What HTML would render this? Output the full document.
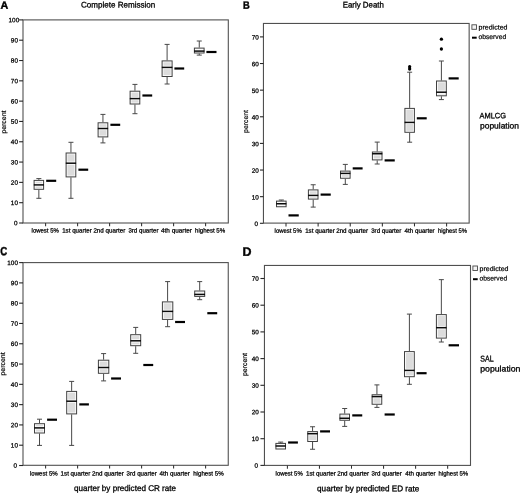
<!DOCTYPE html>
<html><head><meta charset="utf-8"><title>Figure</title>
<style>
html,body{margin:0;padding:0;background:#fff;}
body{width:520px;height:494px;overflow:hidden;}
svg text{font-family:"Liberation Sans", "DejaVu Sans", sans-serif;text-rendering:geometricPrecision;}
</style></head><body>
<svg width="520" height="494" viewBox="0 0 520 494" style="display:block">
<rect width="520" height="494" fill="#fff"/>
<rect x="23.0" y="19.9" width="205.30" height="203.10" fill="none" stroke="#505050" stroke-width="1.1"/>
<line x1="19.10" x2="23.00" y1="223.00" y2="223.00" stroke="#262626" stroke-width="1.1"/>
<text x="17.45" y="225.35" transform="rotate(0.05 17.45 225.35)" font-size="6.3" text-anchor="end" textLength="3.55" lengthAdjust="spacingAndGlyphs" fill="#000" stroke="#000" stroke-width="0.25">0</text>
<line x1="19.10" x2="23.00" y1="202.69" y2="202.69" stroke="#262626" stroke-width="1.1"/>
<text x="17.95" y="205.04" transform="rotate(0.05 17.95 205.04)" font-size="6.3" text-anchor="end" textLength="7.10" lengthAdjust="spacingAndGlyphs" fill="#000" stroke="#000" stroke-width="0.25">10</text>
<line x1="19.10" x2="23.00" y1="182.38" y2="182.38" stroke="#262626" stroke-width="1.1"/>
<text x="17.95" y="184.73" transform="rotate(0.05 17.95 184.73)" font-size="6.3" text-anchor="end" textLength="7.10" lengthAdjust="spacingAndGlyphs" fill="#000" stroke="#000" stroke-width="0.25">20</text>
<line x1="19.10" x2="23.00" y1="162.07" y2="162.07" stroke="#262626" stroke-width="1.1"/>
<text x="17.95" y="164.42" transform="rotate(0.05 17.95 164.42)" font-size="6.3" text-anchor="end" textLength="7.10" lengthAdjust="spacingAndGlyphs" fill="#000" stroke="#000" stroke-width="0.25">30</text>
<line x1="19.10" x2="23.00" y1="141.76" y2="141.76" stroke="#262626" stroke-width="1.1"/>
<text x="17.95" y="144.11" transform="rotate(0.05 17.95 144.11)" font-size="6.3" text-anchor="end" textLength="7.10" lengthAdjust="spacingAndGlyphs" fill="#000" stroke="#000" stroke-width="0.25">40</text>
<line x1="19.10" x2="23.00" y1="121.45" y2="121.45" stroke="#262626" stroke-width="1.1"/>
<text x="17.95" y="123.80" transform="rotate(0.05 17.95 123.80)" font-size="6.3" text-anchor="end" textLength="7.10" lengthAdjust="spacingAndGlyphs" fill="#000" stroke="#000" stroke-width="0.25">50</text>
<line x1="19.10" x2="23.00" y1="101.14" y2="101.14" stroke="#262626" stroke-width="1.1"/>
<text x="17.95" y="103.49" transform="rotate(0.05 17.95 103.49)" font-size="6.3" text-anchor="end" textLength="7.10" lengthAdjust="spacingAndGlyphs" fill="#000" stroke="#000" stroke-width="0.25">60</text>
<line x1="19.10" x2="23.00" y1="80.83" y2="80.83" stroke="#262626" stroke-width="1.1"/>
<text x="17.95" y="83.18" transform="rotate(0.05 17.95 83.18)" font-size="6.3" text-anchor="end" textLength="7.10" lengthAdjust="spacingAndGlyphs" fill="#000" stroke="#000" stroke-width="0.25">70</text>
<line x1="19.10" x2="23.00" y1="60.52" y2="60.52" stroke="#262626" stroke-width="1.1"/>
<text x="17.95" y="62.87" transform="rotate(0.05 17.95 62.87)" font-size="6.3" text-anchor="end" textLength="7.10" lengthAdjust="spacingAndGlyphs" fill="#000" stroke="#000" stroke-width="0.25">80</text>
<line x1="19.10" x2="23.00" y1="40.21" y2="40.21" stroke="#262626" stroke-width="1.1"/>
<text x="17.95" y="42.56" transform="rotate(0.05 17.95 42.56)" font-size="6.3" text-anchor="end" textLength="7.10" lengthAdjust="spacingAndGlyphs" fill="#000" stroke="#000" stroke-width="0.25">90</text>
<line x1="19.10" x2="23.00" y1="19.90" y2="19.90" stroke="#262626" stroke-width="1.1"/>
<text x="19.2" y="22.25" transform="rotate(0.05 19.2 22.25)" font-size="6.3" text-anchor="end" textLength="10.65" lengthAdjust="spacingAndGlyphs" fill="#000" stroke="#000" stroke-width="0.25">100</text>
<line x1="45.60" x2="45.60" y1="223.00" y2="226.30" stroke="#303030" stroke-width="1.05"/>
<text x="31.60" y="232.60" transform="rotate(0.05 31.60 232.60)" font-size="6.2" text-anchor="start" textLength="27.20" lengthAdjust="spacingAndGlyphs" fill="#000" stroke="#000" stroke-width="0.25">lowest 5%</text>
<line x1="38.85" x2="38.85" y1="178.60" y2="179.90" stroke="#484848" stroke-width="1"/>
<line x1="38.85" x2="38.85" y1="189.80" y2="198.30" stroke="#484848" stroke-width="1"/>
<line x1="36.35" x2="41.35" y1="178.60" y2="178.60" stroke="#484848" stroke-width="1"/>
<line x1="36.35" x2="41.35" y1="198.30" y2="198.30" stroke="#484848" stroke-width="1"/>
<rect x="34.10" y="180.40" width="9.50" height="8.90" fill="#fbfbfb" stroke="#404040" stroke-width="1"/>
<rect x="35.50" y="181.80" width="6.70" height="1.45" fill="#dcdcdc"/>
<rect x="35.50" y="186.55" width="6.70" height="1.35" fill="#dcdcdc"/>
<line x1="33.80" x2="43.90" y1="184.90" y2="184.90" stroke="#0a0a0a" stroke-width="1.5"/>
<line x1="46.20" x2="56.20" y1="180.80" y2="180.80" stroke="#000" stroke-width="2.2"/>
<line x1="77.60" x2="77.60" y1="223.00" y2="226.30" stroke="#303030" stroke-width="1.05"/>
<text x="62.20" y="232.60" transform="rotate(0.05 62.20 232.60)" font-size="6.2" text-anchor="start" textLength="29.50" lengthAdjust="spacingAndGlyphs" fill="#000" stroke="#000" stroke-width="0.25">1st quarter</text>
<line x1="70.95" x2="70.95" y1="142.30" y2="152.50" stroke="#484848" stroke-width="1"/>
<line x1="70.95" x2="70.95" y1="177.40" y2="198.30" stroke="#484848" stroke-width="1"/>
<line x1="68.45" x2="73.45" y1="142.30" y2="142.30" stroke="#484848" stroke-width="1"/>
<line x1="68.45" x2="73.45" y1="198.30" y2="198.30" stroke="#484848" stroke-width="1"/>
<rect x="66.10" y="153.00" width="9.70" height="23.90" fill="#fbfbfb" stroke="#404040" stroke-width="1"/>
<rect x="67.50" y="154.40" width="6.90" height="7.15" fill="#dcdcdc"/>
<rect x="67.50" y="164.85" width="6.90" height="10.65" fill="#dcdcdc"/>
<line x1="65.80" x2="76.10" y1="163.20" y2="163.20" stroke="#0a0a0a" stroke-width="1.5"/>
<line x1="78.40" x2="88.20" y1="169.70" y2="169.70" stroke="#000" stroke-width="2.2"/>
<line x1="109.60" x2="109.60" y1="223.00" y2="226.30" stroke="#303030" stroke-width="1.05"/>
<text x="93.40" y="232.60" transform="rotate(0.05 93.40 232.60)" font-size="6.2" text-anchor="start" textLength="31.90" lengthAdjust="spacingAndGlyphs" fill="#000" stroke="#000" stroke-width="0.25">2nd quarter</text>
<line x1="102.95" x2="102.95" y1="114.40" y2="122.30" stroke="#484848" stroke-width="1"/>
<line x1="102.95" x2="102.95" y1="137.40" y2="142.90" stroke="#484848" stroke-width="1"/>
<line x1="100.45" x2="105.45" y1="114.40" y2="114.40" stroke="#484848" stroke-width="1"/>
<line x1="100.45" x2="105.45" y1="142.90" y2="142.90" stroke="#484848" stroke-width="1"/>
<rect x="98.10" y="122.80" width="9.70" height="14.10" fill="#fbfbfb" stroke="#404040" stroke-width="1"/>
<rect x="99.50" y="124.20" width="6.90" height="2.65" fill="#dcdcdc"/>
<rect x="99.50" y="130.15" width="6.90" height="5.35" fill="#dcdcdc"/>
<line x1="97.80" x2="108.10" y1="128.50" y2="128.50" stroke="#0a0a0a" stroke-width="1.5"/>
<line x1="110.40" x2="120.20" y1="124.80" y2="124.80" stroke="#000" stroke-width="2.2"/>
<line x1="141.60" x2="141.60" y1="223.00" y2="226.30" stroke="#303030" stroke-width="1.05"/>
<text x="128.40" y="232.60" transform="rotate(0.05 128.40 232.60)" font-size="6.2" text-anchor="start" textLength="30.10" lengthAdjust="spacingAndGlyphs" fill="#000" stroke="#000" stroke-width="0.25">3rd quarter</text>
<line x1="134.95" x2="134.95" y1="84.40" y2="90.70" stroke="#484848" stroke-width="1"/>
<line x1="134.95" x2="134.95" y1="104.50" y2="113.70" stroke="#484848" stroke-width="1"/>
<line x1="132.45" x2="137.45" y1="84.40" y2="84.40" stroke="#484848" stroke-width="1"/>
<line x1="132.45" x2="137.45" y1="113.70" y2="113.70" stroke="#484848" stroke-width="1"/>
<rect x="130.10" y="91.20" width="9.70" height="12.80" fill="#fbfbfb" stroke="#404040" stroke-width="1"/>
<rect x="131.50" y="92.60" width="6.90" height="4.35" fill="#dcdcdc"/>
<rect x="131.50" y="100.25" width="6.90" height="2.35" fill="#dcdcdc"/>
<line x1="129.80" x2="140.10" y1="98.60" y2="98.60" stroke="#0a0a0a" stroke-width="1.5"/>
<line x1="142.40" x2="152.20" y1="95.50" y2="95.50" stroke="#000" stroke-width="2.2"/>
<line x1="173.60" x2="173.60" y1="223.00" y2="226.30" stroke="#303030" stroke-width="1.05"/>
<text x="161.00" y="232.60" transform="rotate(0.05 161.00 232.60)" font-size="6.2" text-anchor="start" textLength="30.90" lengthAdjust="spacingAndGlyphs" fill="#000" stroke="#000" stroke-width="0.25">4th quarter</text>
<line x1="167.10" x2="167.10" y1="44.40" y2="60.40" stroke="#484848" stroke-width="1"/>
<line x1="167.10" x2="167.10" y1="77.00" y2="84.00" stroke="#484848" stroke-width="1"/>
<line x1="164.60" x2="169.60" y1="44.40" y2="44.40" stroke="#484848" stroke-width="1"/>
<line x1="164.60" x2="169.60" y1="84.00" y2="84.00" stroke="#484848" stroke-width="1"/>
<rect x="162.10" y="60.90" width="10.00" height="15.60" fill="#fbfbfb" stroke="#404040" stroke-width="1"/>
<rect x="163.50" y="62.30" width="7.20" height="3.45" fill="#dcdcdc"/>
<rect x="163.50" y="69.05" width="7.20" height="6.05" fill="#dcdcdc"/>
<line x1="161.80" x2="172.40" y1="67.40" y2="67.40" stroke="#0a0a0a" stroke-width="1.5"/>
<line x1="174.40" x2="184.20" y1="68.50" y2="68.50" stroke="#000" stroke-width="2.2"/>
<line x1="205.60" x2="205.60" y1="223.00" y2="226.30" stroke="#303030" stroke-width="1.05"/>
<text x="195.00" y="232.60" transform="rotate(0.05 195.00 232.60)" font-size="6.2" text-anchor="start" textLength="30.20" lengthAdjust="spacingAndGlyphs" fill="#000" stroke="#000" stroke-width="0.25">highest 5%</text>
<line x1="199.25" x2="199.25" y1="41.00" y2="47.60" stroke="#484848" stroke-width="1"/>
<line x1="199.25" x2="199.25" y1="53.50" y2="55.10" stroke="#484848" stroke-width="1"/>
<line x1="196.75" x2="201.75" y1="41.00" y2="41.00" stroke="#484848" stroke-width="1"/>
<line x1="196.75" x2="201.75" y1="55.10" y2="55.10" stroke="#484848" stroke-width="1"/>
<rect x="194.40" y="48.10" width="9.70" height="4.90" fill="#fbfbfb" stroke="#404040" stroke-width="1"/>
<line x1="194.10" x2="204.40" y1="51.10" y2="51.10" stroke="#0a0a0a" stroke-width="1.5"/>
<line x1="206.40" x2="216.50" y1="52.00" y2="52.00" stroke="#000" stroke-width="2.2"/>
<text transform="translate(6.30,133.60) rotate(-90)" font-size="6.8" textLength="23.00" lengthAdjust="spacingAndGlyphs" fill="#000" stroke="#000" stroke-width="0.18">percent</text>
<rect x="23.0" y="262.6" width="205.25" height="202.70" fill="none" stroke="#505050" stroke-width="1.1"/>
<line x1="19.10" x2="23.00" y1="465.50" y2="465.50" stroke="#262626" stroke-width="1.1"/>
<text x="16.95" y="467.85" transform="rotate(0.05 16.95 467.85)" font-size="6.3" text-anchor="end" textLength="3.55" lengthAdjust="spacingAndGlyphs" fill="#000" stroke="#000" stroke-width="0.25">0</text>
<line x1="19.10" x2="23.00" y1="445.21" y2="445.21" stroke="#262626" stroke-width="1.1"/>
<text x="17.95" y="447.56" transform="rotate(0.05 17.95 447.56)" font-size="6.3" text-anchor="end" textLength="7.10" lengthAdjust="spacingAndGlyphs" fill="#000" stroke="#000" stroke-width="0.25">10</text>
<line x1="19.10" x2="23.00" y1="424.92" y2="424.92" stroke="#262626" stroke-width="1.1"/>
<text x="17.95" y="427.27" transform="rotate(0.05 17.95 427.27)" font-size="6.3" text-anchor="end" textLength="7.10" lengthAdjust="spacingAndGlyphs" fill="#000" stroke="#000" stroke-width="0.25">20</text>
<line x1="19.10" x2="23.00" y1="404.63" y2="404.63" stroke="#262626" stroke-width="1.1"/>
<text x="17.95" y="406.98" transform="rotate(0.05 17.95 406.98)" font-size="6.3" text-anchor="end" textLength="7.10" lengthAdjust="spacingAndGlyphs" fill="#000" stroke="#000" stroke-width="0.25">30</text>
<line x1="19.10" x2="23.00" y1="384.34" y2="384.34" stroke="#262626" stroke-width="1.1"/>
<text x="17.95" y="386.69" transform="rotate(0.05 17.95 386.69)" font-size="6.3" text-anchor="end" textLength="7.10" lengthAdjust="spacingAndGlyphs" fill="#000" stroke="#000" stroke-width="0.25">40</text>
<line x1="19.10" x2="23.00" y1="364.05" y2="364.05" stroke="#262626" stroke-width="1.1"/>
<text x="17.95" y="366.40" transform="rotate(0.05 17.95 366.40)" font-size="6.3" text-anchor="end" textLength="7.10" lengthAdjust="spacingAndGlyphs" fill="#000" stroke="#000" stroke-width="0.25">50</text>
<line x1="19.10" x2="23.00" y1="343.76" y2="343.76" stroke="#262626" stroke-width="1.1"/>
<text x="17.95" y="346.11" transform="rotate(0.05 17.95 346.11)" font-size="6.3" text-anchor="end" textLength="7.10" lengthAdjust="spacingAndGlyphs" fill="#000" stroke="#000" stroke-width="0.25">60</text>
<line x1="19.10" x2="23.00" y1="323.47" y2="323.47" stroke="#262626" stroke-width="1.1"/>
<text x="17.95" y="325.82" transform="rotate(0.05 17.95 325.82)" font-size="6.3" text-anchor="end" textLength="7.10" lengthAdjust="spacingAndGlyphs" fill="#000" stroke="#000" stroke-width="0.25">70</text>
<line x1="19.10" x2="23.00" y1="303.18" y2="303.18" stroke="#262626" stroke-width="1.1"/>
<text x="17.95" y="305.53" transform="rotate(0.05 17.95 305.53)" font-size="6.3" text-anchor="end" textLength="7.10" lengthAdjust="spacingAndGlyphs" fill="#000" stroke="#000" stroke-width="0.25">80</text>
<line x1="19.10" x2="23.00" y1="282.89" y2="282.89" stroke="#262626" stroke-width="1.1"/>
<text x="17.95" y="285.24" transform="rotate(0.05 17.95 285.24)" font-size="6.3" text-anchor="end" textLength="7.10" lengthAdjust="spacingAndGlyphs" fill="#000" stroke="#000" stroke-width="0.25">90</text>
<line x1="19.10" x2="23.00" y1="262.60" y2="262.60" stroke="#262626" stroke-width="1.1"/>
<text x="17.95" y="264.95" transform="rotate(0.05 17.95 264.95)" font-size="6.3" text-anchor="end" textLength="10.65" lengthAdjust="spacingAndGlyphs" fill="#000" stroke="#000" stroke-width="0.25">100</text>
<line x1="45.60" x2="45.60" y1="465.30" y2="468.60" stroke="#303030" stroke-width="1.05"/>
<text x="30.00" y="475.40" transform="rotate(0.05 30.00 475.40)" font-size="6.2" text-anchor="start" textLength="27.70" lengthAdjust="spacingAndGlyphs" fill="#000" stroke="#000" stroke-width="0.25">lowest 5%</text>
<line x1="39.50" x2="39.50" y1="419.20" y2="423.20" stroke="#484848" stroke-width="1"/>
<line x1="39.50" x2="39.50" y1="433.50" y2="445.40" stroke="#484848" stroke-width="1"/>
<line x1="37.00" x2="42.00" y1="419.20" y2="419.20" stroke="#484848" stroke-width="1"/>
<line x1="37.00" x2="42.00" y1="445.40" y2="445.40" stroke="#484848" stroke-width="1"/>
<rect x="34.50" y="423.70" width="10.00" height="9.30" fill="#fbfbfb" stroke="#404040" stroke-width="1"/>
<rect x="35.90" y="425.10" width="7.20" height="1.15" fill="#dcdcdc"/>
<rect x="35.90" y="429.55" width="7.20" height="2.05" fill="#dcdcdc"/>
<line x1="34.20" x2="44.80" y1="427.90" y2="427.90" stroke="#0a0a0a" stroke-width="1.5"/>
<line x1="47.10" x2="57.00" y1="419.70" y2="419.70" stroke="#000" stroke-width="2.2"/>
<line x1="77.60" x2="77.60" y1="465.30" y2="468.60" stroke="#303030" stroke-width="1.05"/>
<text x="60.60" y="475.40" transform="rotate(0.05 60.60 475.40)" font-size="6.2" text-anchor="start" textLength="29.70" lengthAdjust="spacingAndGlyphs" fill="#000" stroke="#000" stroke-width="0.25">1st quarter</text>
<line x1="71.65" x2="71.65" y1="381.40" y2="390.90" stroke="#484848" stroke-width="1"/>
<line x1="71.65" x2="71.65" y1="414.40" y2="445.40" stroke="#484848" stroke-width="1"/>
<line x1="69.15" x2="74.15" y1="381.40" y2="381.40" stroke="#484848" stroke-width="1"/>
<line x1="69.15" x2="74.15" y1="445.40" y2="445.40" stroke="#484848" stroke-width="1"/>
<rect x="66.70" y="391.40" width="9.90" height="22.50" fill="#fbfbfb" stroke="#404040" stroke-width="1"/>
<rect x="68.10" y="392.80" width="7.10" height="6.75" fill="#dcdcdc"/>
<rect x="68.10" y="402.85" width="7.10" height="9.65" fill="#dcdcdc"/>
<line x1="66.40" x2="76.90" y1="401.20" y2="401.20" stroke="#0a0a0a" stroke-width="1.5"/>
<line x1="79.30" x2="88.90" y1="404.40" y2="404.40" stroke="#000" stroke-width="2.2"/>
<line x1="109.60" x2="109.60" y1="465.30" y2="468.60" stroke="#303030" stroke-width="1.05"/>
<text x="92.00" y="475.40" transform="rotate(0.05 92.00 475.40)" font-size="6.2" text-anchor="start" textLength="31.90" lengthAdjust="spacingAndGlyphs" fill="#000" stroke="#000" stroke-width="0.25">2nd quarter</text>
<line x1="103.60" x2="103.60" y1="353.60" y2="359.70" stroke="#484848" stroke-width="1"/>
<line x1="103.60" x2="103.60" y1="373.80" y2="380.90" stroke="#484848" stroke-width="1"/>
<line x1="101.10" x2="106.10" y1="353.60" y2="353.60" stroke="#484848" stroke-width="1"/>
<line x1="101.10" x2="106.10" y1="380.90" y2="380.90" stroke="#484848" stroke-width="1"/>
<rect x="98.40" y="360.20" width="10.40" height="13.10" fill="#fbfbfb" stroke="#404040" stroke-width="1"/>
<rect x="99.80" y="361.60" width="7.60" height="4.25" fill="#dcdcdc"/>
<rect x="99.80" y="369.15" width="7.60" height="2.75" fill="#dcdcdc"/>
<line x1="98.10" x2="109.10" y1="367.50" y2="367.50" stroke="#0a0a0a" stroke-width="1.5"/>
<line x1="111.10" x2="121.00" y1="378.50" y2="378.50" stroke="#000" stroke-width="2.2"/>
<line x1="141.60" x2="141.60" y1="465.30" y2="468.60" stroke="#303030" stroke-width="1.05"/>
<text x="126.60" y="475.40" transform="rotate(0.05 126.60 475.40)" font-size="6.2" text-anchor="start" textLength="30.10" lengthAdjust="spacingAndGlyphs" fill="#000" stroke="#000" stroke-width="0.25">3rd quarter</text>
<line x1="135.70" x2="135.70" y1="327.40" y2="334.20" stroke="#484848" stroke-width="1"/>
<line x1="135.70" x2="135.70" y1="346.20" y2="353.30" stroke="#484848" stroke-width="1"/>
<line x1="133.20" x2="138.20" y1="327.40" y2="327.40" stroke="#484848" stroke-width="1"/>
<line x1="133.20" x2="138.20" y1="353.30" y2="353.30" stroke="#484848" stroke-width="1"/>
<rect x="130.70" y="334.70" width="10.00" height="11.00" fill="#fbfbfb" stroke="#404040" stroke-width="1"/>
<rect x="132.10" y="336.10" width="7.20" height="3.05" fill="#dcdcdc"/>
<rect x="132.10" y="342.45" width="7.20" height="1.85" fill="#dcdcdc"/>
<line x1="130.40" x2="141.00" y1="340.80" y2="340.80" stroke="#0a0a0a" stroke-width="1.5"/>
<line x1="143.30" x2="153.20" y1="365.00" y2="365.00" stroke="#000" stroke-width="2.2"/>
<line x1="173.60" x2="173.60" y1="465.30" y2="468.60" stroke="#303030" stroke-width="1.05"/>
<text x="159.60" y="475.40" transform="rotate(0.05 159.60 475.40)" font-size="6.2" text-anchor="start" textLength="30.30" lengthAdjust="spacingAndGlyphs" fill="#000" stroke="#000" stroke-width="0.25">4th quarter</text>
<line x1="167.60" x2="167.60" y1="281.60" y2="301.40" stroke="#484848" stroke-width="1"/>
<line x1="167.60" x2="167.60" y1="319.90" y2="326.70" stroke="#484848" stroke-width="1"/>
<line x1="165.10" x2="170.10" y1="281.60" y2="281.60" stroke="#484848" stroke-width="1"/>
<line x1="165.10" x2="170.10" y1="326.70" y2="326.70" stroke="#484848" stroke-width="1"/>
<rect x="162.40" y="301.90" width="10.40" height="17.50" fill="#fbfbfb" stroke="#404040" stroke-width="1"/>
<rect x="163.80" y="303.30" width="7.60" height="6.45" fill="#dcdcdc"/>
<rect x="163.80" y="313.05" width="7.60" height="4.95" fill="#dcdcdc"/>
<line x1="162.10" x2="173.10" y1="311.40" y2="311.40" stroke="#0a0a0a" stroke-width="1.5"/>
<line x1="175.10" x2="185.00" y1="322.00" y2="322.00" stroke="#000" stroke-width="2.2"/>
<line x1="205.60" x2="205.60" y1="465.30" y2="468.60" stroke="#303030" stroke-width="1.05"/>
<text x="193.20" y="475.40" transform="rotate(0.05 193.20 475.40)" font-size="6.2" text-anchor="start" textLength="30.50" lengthAdjust="spacingAndGlyphs" fill="#000" stroke="#000" stroke-width="0.25">highest 5%</text>
<line x1="199.70" x2="199.70" y1="281.60" y2="290.50" stroke="#484848" stroke-width="1"/>
<line x1="199.70" x2="199.70" y1="296.90" y2="299.70" stroke="#484848" stroke-width="1"/>
<line x1="197.20" x2="202.20" y1="281.60" y2="281.60" stroke="#484848" stroke-width="1"/>
<line x1="197.20" x2="202.20" y1="299.70" y2="299.70" stroke="#484848" stroke-width="1"/>
<rect x="194.70" y="291.00" width="10.00" height="5.40" fill="#fbfbfb" stroke="#404040" stroke-width="1"/>
<rect x="196.10" y="292.40" width="7.20" height="0.35" fill="#dcdcdc"/>
<line x1="194.40" x2="205.00" y1="294.40" y2="294.40" stroke="#0a0a0a" stroke-width="1.5"/>
<line x1="207.30" x2="217.20" y1="313.20" y2="313.20" stroke="#000" stroke-width="2.2"/>
<text transform="translate(5.30,375.50) rotate(-90)" font-size="6.8" textLength="23.10" lengthAdjust="spacingAndGlyphs" fill="#000" stroke="#000" stroke-width="0.18">percent</text>
<rect x="263.45" y="23.45" width="205.70" height="199.65" fill="none" stroke="#505050" stroke-width="1.1"/>
<line x1="259.95" x2="263.45" y1="223.30" y2="223.30" stroke="#262626" stroke-width="1.1"/>
<text x="257.95" y="226.05" transform="rotate(0.05 257.95 226.05)" font-size="6.3" text-anchor="end" textLength="3.55" lengthAdjust="spacingAndGlyphs" fill="#000" stroke="#000" stroke-width="0.25">0</text>
<line x1="259.95" x2="263.45" y1="196.67" y2="196.67" stroke="#262626" stroke-width="1.1"/>
<text x="258.9" y="199.42" transform="rotate(0.05 258.9 199.42)" font-size="6.3" text-anchor="end" textLength="7.10" lengthAdjust="spacingAndGlyphs" fill="#000" stroke="#000" stroke-width="0.25">10</text>
<line x1="259.95" x2="263.45" y1="170.04" y2="170.04" stroke="#262626" stroke-width="1.1"/>
<text x="258.9" y="172.79" transform="rotate(0.05 258.9 172.79)" font-size="6.3" text-anchor="end" textLength="7.10" lengthAdjust="spacingAndGlyphs" fill="#000" stroke="#000" stroke-width="0.25">20</text>
<line x1="259.95" x2="263.45" y1="143.41" y2="143.41" stroke="#262626" stroke-width="1.1"/>
<text x="258.9" y="146.16" transform="rotate(0.05 258.9 146.16)" font-size="6.3" text-anchor="end" textLength="7.10" lengthAdjust="spacingAndGlyphs" fill="#000" stroke="#000" stroke-width="0.25">30</text>
<line x1="259.95" x2="263.45" y1="116.78" y2="116.78" stroke="#262626" stroke-width="1.1"/>
<text x="258.9" y="119.53" transform="rotate(0.05 258.9 119.53)" font-size="6.3" text-anchor="end" textLength="7.10" lengthAdjust="spacingAndGlyphs" fill="#000" stroke="#000" stroke-width="0.25">40</text>
<line x1="259.95" x2="263.45" y1="90.15" y2="90.15" stroke="#262626" stroke-width="1.1"/>
<text x="258.9" y="92.90" transform="rotate(0.05 258.9 92.90)" font-size="6.3" text-anchor="end" textLength="7.10" lengthAdjust="spacingAndGlyphs" fill="#000" stroke="#000" stroke-width="0.25">50</text>
<line x1="259.95" x2="263.45" y1="63.52" y2="63.52" stroke="#262626" stroke-width="1.1"/>
<text x="258.9" y="66.27" transform="rotate(0.05 258.9 66.27)" font-size="6.3" text-anchor="end" textLength="7.10" lengthAdjust="spacingAndGlyphs" fill="#000" stroke="#000" stroke-width="0.25">60</text>
<line x1="259.95" x2="263.45" y1="36.89" y2="36.89" stroke="#262626" stroke-width="1.1"/>
<text x="258.9" y="39.64" transform="rotate(0.05 258.9 39.64)" font-size="6.3" text-anchor="end" textLength="7.10" lengthAdjust="spacingAndGlyphs" fill="#000" stroke="#000" stroke-width="0.25">70</text>
<line x1="286.00" x2="286.00" y1="223.10" y2="226.40" stroke="#303030" stroke-width="1.05"/>
<text x="274.60" y="232.70" transform="rotate(0.05 274.60 232.70)" font-size="6.2" text-anchor="start" textLength="27.10" lengthAdjust="spacingAndGlyphs" fill="#000" stroke="#000" stroke-width="0.25">lowest 5%</text>
<line x1="281.30" x2="281.30" y1="200.00" y2="200.60" stroke="#484848" stroke-width="1"/>
<line x1="278.80" x2="283.80" y1="200.00" y2="200.00" stroke="#484848" stroke-width="1"/>
<rect x="276.50" y="201.10" width="9.60" height="5.65" fill="#fbfbfb" stroke="#404040" stroke-width="1"/>
<line x1="276.20" x2="286.40" y1="203.75" y2="203.75" stroke="#0a0a0a" stroke-width="1.5"/>
<line x1="288.50" x2="298.75" y1="215.40" y2="215.40" stroke="#000" stroke-width="2.2"/>
<line x1="318.12" x2="318.12" y1="223.10" y2="226.40" stroke="#303030" stroke-width="1.05"/>
<text x="305.20" y="232.70" transform="rotate(0.05 305.20 232.70)" font-size="6.2" text-anchor="start" textLength="29.50" lengthAdjust="spacingAndGlyphs" fill="#000" stroke="#000" stroke-width="0.25">1st quarter</text>
<line x1="313.20" x2="313.20" y1="184.75" y2="189.40" stroke="#484848" stroke-width="1"/>
<line x1="313.20" x2="313.20" y1="199.60" y2="207.10" stroke="#484848" stroke-width="1"/>
<line x1="310.70" x2="315.70" y1="184.75" y2="184.75" stroke="#484848" stroke-width="1"/>
<line x1="310.70" x2="315.70" y1="207.10" y2="207.10" stroke="#484848" stroke-width="1"/>
<rect x="308.40" y="189.90" width="9.60" height="9.20" fill="#fbfbfb" stroke="#404040" stroke-width="1"/>
<rect x="309.80" y="191.30" width="6.80" height="2.45" fill="#dcdcdc"/>
<rect x="309.80" y="197.05" width="6.80" height="0.65" fill="#dcdcdc"/>
<line x1="308.10" x2="318.30" y1="195.40" y2="195.40" stroke="#0a0a0a" stroke-width="1.5"/>
<line x1="320.60" x2="330.75" y1="194.60" y2="194.60" stroke="#000" stroke-width="2.2"/>
<line x1="350.24" x2="350.24" y1="223.10" y2="226.40" stroke="#303030" stroke-width="1.05"/>
<text x="336.20" y="232.70" transform="rotate(0.05 336.20 232.70)" font-size="6.2" text-anchor="start" textLength="31.90" lengthAdjust="spacingAndGlyphs" fill="#000" stroke="#000" stroke-width="0.25">2nd quarter</text>
<line x1="345.30" x2="345.30" y1="164.40" y2="170.60" stroke="#484848" stroke-width="1"/>
<line x1="345.30" x2="345.30" y1="178.75" y2="184.40" stroke="#484848" stroke-width="1"/>
<line x1="342.80" x2="347.80" y1="164.40" y2="164.40" stroke="#484848" stroke-width="1"/>
<line x1="342.80" x2="347.80" y1="184.40" y2="184.40" stroke="#484848" stroke-width="1"/>
<rect x="340.50" y="171.10" width="9.60" height="7.15" fill="#fbfbfb" stroke="#404040" stroke-width="1"/>
<rect x="341.90" y="175.05" width="6.80" height="1.80" fill="#dcdcdc"/>
<line x1="340.20" x2="350.40" y1="173.40" y2="173.40" stroke="#0a0a0a" stroke-width="1.5"/>
<line x1="352.70" x2="362.60" y1="168.40" y2="168.40" stroke="#000" stroke-width="2.2"/>
<line x1="382.36" x2="382.36" y1="223.10" y2="226.40" stroke="#303030" stroke-width="1.05"/>
<text x="371.20" y="232.70" transform="rotate(0.05 371.20 232.70)" font-size="6.2" text-anchor="start" textLength="30.10" lengthAdjust="spacingAndGlyphs" fill="#000" stroke="#000" stroke-width="0.25">3rd quarter</text>
<line x1="377.20" x2="377.20" y1="142.10" y2="151.50" stroke="#484848" stroke-width="1"/>
<line x1="377.20" x2="377.20" y1="160.40" y2="164.00" stroke="#484848" stroke-width="1"/>
<line x1="374.70" x2="379.70" y1="142.10" y2="142.10" stroke="#484848" stroke-width="1"/>
<line x1="374.70" x2="379.70" y1="164.00" y2="164.00" stroke="#484848" stroke-width="1"/>
<rect x="372.40" y="152.00" width="9.60" height="7.90" fill="#fbfbfb" stroke="#404040" stroke-width="1"/>
<rect x="373.80" y="155.40" width="6.80" height="3.10" fill="#dcdcdc"/>
<line x1="372.10" x2="382.30" y1="153.75" y2="153.75" stroke="#0a0a0a" stroke-width="1.5"/>
<line x1="384.60" x2="394.75" y1="160.40" y2="160.40" stroke="#000" stroke-width="2.2"/>
<line x1="414.48" x2="414.48" y1="223.10" y2="226.40" stroke="#303030" stroke-width="1.05"/>
<text x="404.60" y="232.70" transform="rotate(0.05 404.60 232.70)" font-size="6.2" text-anchor="start" textLength="30.10" lengthAdjust="spacingAndGlyphs" fill="#000" stroke="#000" stroke-width="0.25">4th quarter</text>
<line x1="409.65" x2="409.65" y1="72.20" y2="107.90" stroke="#484848" stroke-width="1"/>
<line x1="409.65" x2="409.65" y1="132.80" y2="142.20" stroke="#484848" stroke-width="1"/>
<line x1="407.15" x2="412.15" y1="72.20" y2="72.20" stroke="#484848" stroke-width="1"/>
<line x1="407.15" x2="412.15" y1="142.20" y2="142.20" stroke="#484848" stroke-width="1"/>
<rect x="404.90" y="108.40" width="9.50" height="23.90" fill="#fbfbfb" stroke="#404040" stroke-width="1"/>
<rect x="406.30" y="109.80" width="6.70" height="10.95" fill="#dcdcdc"/>
<rect x="406.30" y="124.05" width="6.70" height="6.85" fill="#dcdcdc"/>
<line x1="404.60" x2="414.70" y1="122.40" y2="122.40" stroke="#0a0a0a" stroke-width="1.5"/>
<line x1="416.80" x2="426.70" y1="118.30" y2="118.30" stroke="#000" stroke-width="2.2"/>
<circle cx="409.65" cy="66.70" r="1.65" fill="#000"/>
<circle cx="409.65" cy="69.00" r="1.65" fill="#000"/>
<line x1="446.60" x2="446.60" y1="223.10" y2="226.40" stroke="#303030" stroke-width="1.05"/>
<text x="438.00" y="232.70" transform="rotate(0.05 438.00 232.70)" font-size="6.2" text-anchor="start" textLength="28.90" lengthAdjust="spacingAndGlyphs" fill="#000" stroke="#000" stroke-width="0.25">highest 5%</text>
<line x1="441.40" x2="441.40" y1="61.00" y2="80.50" stroke="#484848" stroke-width="1"/>
<line x1="441.40" x2="441.40" y1="96.30" y2="99.60" stroke="#484848" stroke-width="1"/>
<line x1="438.90" x2="443.90" y1="61.00" y2="61.00" stroke="#484848" stroke-width="1"/>
<line x1="438.90" x2="443.90" y1="99.60" y2="99.60" stroke="#484848" stroke-width="1"/>
<rect x="436.50" y="81.00" width="9.80" height="14.80" fill="#fbfbfb" stroke="#404040" stroke-width="1"/>
<rect x="437.90" y="82.40" width="7.00" height="8.15" fill="#dcdcdc"/>
<rect x="437.90" y="93.85" width="7.00" height="0.55" fill="#dcdcdc"/>
<line x1="436.20" x2="446.60" y1="92.20" y2="92.20" stroke="#0a0a0a" stroke-width="1.5"/>
<line x1="448.60" x2="458.70" y1="78.40" y2="78.40" stroke="#000" stroke-width="2.2"/>
<circle cx="441.40" cy="39.20" r="1.65" fill="#000"/>
<circle cx="441.40" cy="49.00" r="1.65" fill="#000"/>
<text transform="translate(247.60,132.90) rotate(-90)" font-size="6.8" textLength="22.80" lengthAdjust="spacingAndGlyphs" fill="#000" stroke="#000" stroke-width="0.18">percent</text>
<rect x="264.45" y="265.45" width="206.05" height="199.95" fill="none" stroke="#505050" stroke-width="1.1"/>
<line x1="260.45" x2="264.45" y1="465.40" y2="465.40" stroke="#262626" stroke-width="1.1"/>
<text x="257.95" y="467.75" transform="rotate(0.05 257.95 467.75)" font-size="6.3" text-anchor="end" textLength="3.55" lengthAdjust="spacingAndGlyphs" fill="#000" stroke="#000" stroke-width="0.25">0</text>
<line x1="260.45" x2="264.45" y1="438.70" y2="438.70" stroke="#262626" stroke-width="1.1"/>
<text x="258.85" y="441.05" transform="rotate(0.05 258.85 441.05)" font-size="6.3" text-anchor="end" textLength="7.10" lengthAdjust="spacingAndGlyphs" fill="#000" stroke="#000" stroke-width="0.25">10</text>
<line x1="260.45" x2="264.45" y1="412.00" y2="412.00" stroke="#262626" stroke-width="1.1"/>
<text x="258.85" y="414.35" transform="rotate(0.05 258.85 414.35)" font-size="6.3" text-anchor="end" textLength="7.10" lengthAdjust="spacingAndGlyphs" fill="#000" stroke="#000" stroke-width="0.25">20</text>
<line x1="260.45" x2="264.45" y1="385.30" y2="385.30" stroke="#262626" stroke-width="1.1"/>
<text x="258.85" y="387.65" transform="rotate(0.05 258.85 387.65)" font-size="6.3" text-anchor="end" textLength="7.10" lengthAdjust="spacingAndGlyphs" fill="#000" stroke="#000" stroke-width="0.25">30</text>
<line x1="260.45" x2="264.45" y1="358.60" y2="358.60" stroke="#262626" stroke-width="1.1"/>
<text x="258.85" y="360.95" transform="rotate(0.05 258.85 360.95)" font-size="6.3" text-anchor="end" textLength="7.10" lengthAdjust="spacingAndGlyphs" fill="#000" stroke="#000" stroke-width="0.25">40</text>
<line x1="260.45" x2="264.45" y1="331.90" y2="331.90" stroke="#262626" stroke-width="1.1"/>
<text x="258.85" y="334.25" transform="rotate(0.05 258.85 334.25)" font-size="6.3" text-anchor="end" textLength="7.10" lengthAdjust="spacingAndGlyphs" fill="#000" stroke="#000" stroke-width="0.25">50</text>
<line x1="260.45" x2="264.45" y1="305.20" y2="305.20" stroke="#262626" stroke-width="1.1"/>
<text x="258.85" y="307.55" transform="rotate(0.05 258.85 307.55)" font-size="6.3" text-anchor="end" textLength="7.10" lengthAdjust="spacingAndGlyphs" fill="#000" stroke="#000" stroke-width="0.25">60</text>
<line x1="260.45" x2="264.45" y1="278.50" y2="278.50" stroke="#262626" stroke-width="1.1"/>
<text x="258.85" y="280.85" transform="rotate(0.05 258.85 280.85)" font-size="6.3" text-anchor="end" textLength="7.10" lengthAdjust="spacingAndGlyphs" fill="#000" stroke="#000" stroke-width="0.25">70</text>
<line x1="287.40" x2="287.40" y1="465.40" y2="468.70" stroke="#303030" stroke-width="1.05"/>
<text x="275.60" y="475.50" transform="rotate(0.05 275.60 475.50)" font-size="6.2" text-anchor="start" textLength="27.10" lengthAdjust="spacingAndGlyphs" fill="#000" stroke="#000" stroke-width="0.25">lowest 5%</text>
<line x1="280.70" x2="280.70" y1="442.10" y2="442.90" stroke="#484848" stroke-width="1"/>
<line x1="278.20" x2="283.20" y1="442.10" y2="442.10" stroke="#484848" stroke-width="1"/>
<rect x="275.90" y="443.40" width="9.60" height="5.60" fill="#fbfbfb" stroke="#404040" stroke-width="1"/>
<line x1="275.60" x2="285.80" y1="446.00" y2="446.00" stroke="#0a0a0a" stroke-width="1.5"/>
<line x1="288.10" x2="297.90" y1="442.50" y2="442.50" stroke="#000" stroke-width="2.2"/>
<line x1="319.45" x2="319.45" y1="465.40" y2="468.70" stroke="#303030" stroke-width="1.05"/>
<text x="306.00" y="475.50" transform="rotate(0.05 306.00 475.50)" font-size="6.2" text-anchor="start" textLength="29.90" lengthAdjust="spacingAndGlyphs" fill="#000" stroke="#000" stroke-width="0.25">1st quarter</text>
<line x1="312.57" x2="312.57" y1="426.75" y2="431.10" stroke="#484848" stroke-width="1"/>
<line x1="312.57" x2="312.57" y1="442.00" y2="449.25" stroke="#484848" stroke-width="1"/>
<line x1="310.07" x2="315.07" y1="426.75" y2="426.75" stroke="#484848" stroke-width="1"/>
<line x1="310.07" x2="315.07" y1="449.25" y2="449.25" stroke="#484848" stroke-width="1"/>
<rect x="307.75" y="431.60" width="9.65" height="9.90" fill="#fbfbfb" stroke="#404040" stroke-width="1"/>
<rect x="309.15" y="435.35" width="6.85" height="4.75" fill="#dcdcdc"/>
<line x1="307.45" x2="317.70" y1="433.70" y2="433.70" stroke="#0a0a0a" stroke-width="1.5"/>
<line x1="320.10" x2="330.00" y1="431.40" y2="431.40" stroke="#000" stroke-width="2.2"/>
<line x1="351.50" x2="351.50" y1="465.40" y2="468.70" stroke="#303030" stroke-width="1.05"/>
<text x="337.20" y="475.50" transform="rotate(0.05 337.20 475.50)" font-size="6.2" text-anchor="start" textLength="31.90" lengthAdjust="spacingAndGlyphs" fill="#000" stroke="#000" stroke-width="0.25">2nd quarter</text>
<line x1="344.70" x2="344.70" y1="408.50" y2="413.60" stroke="#484848" stroke-width="1"/>
<line x1="344.70" x2="344.70" y1="420.75" y2="426.40" stroke="#484848" stroke-width="1"/>
<line x1="342.20" x2="347.20" y1="408.50" y2="408.50" stroke="#484848" stroke-width="1"/>
<line x1="342.20" x2="347.20" y1="426.40" y2="426.40" stroke="#484848" stroke-width="1"/>
<rect x="339.90" y="414.10" width="9.60" height="6.15" fill="#fbfbfb" stroke="#404040" stroke-width="1"/>
<rect x="341.30" y="415.50" width="6.80" height="1.10" fill="#dcdcdc"/>
<line x1="339.60" x2="349.80" y1="418.25" y2="418.25" stroke="#0a0a0a" stroke-width="1.5"/>
<line x1="352.25" x2="362.25" y1="415.40" y2="415.40" stroke="#000" stroke-width="2.2"/>
<line x1="383.55" x2="383.55" y1="465.40" y2="468.70" stroke="#303030" stroke-width="1.05"/>
<text x="371.60" y="475.50" transform="rotate(0.05 371.60 475.50)" font-size="6.2" text-anchor="start" textLength="30.30" lengthAdjust="spacingAndGlyphs" fill="#000" stroke="#000" stroke-width="0.25">3rd quarter</text>
<line x1="376.93" x2="376.93" y1="384.90" y2="394.25" stroke="#484848" stroke-width="1"/>
<line x1="376.93" x2="376.93" y1="404.75" y2="407.40" stroke="#484848" stroke-width="1"/>
<line x1="374.43" x2="379.43" y1="384.90" y2="384.90" stroke="#484848" stroke-width="1"/>
<line x1="374.43" x2="379.43" y1="407.40" y2="407.40" stroke="#484848" stroke-width="1"/>
<rect x="372.10" y="394.75" width="9.65" height="9.50" fill="#fbfbfb" stroke="#404040" stroke-width="1"/>
<rect x="373.50" y="398.25" width="6.85" height="4.60" fill="#dcdcdc"/>
<line x1="371.80" x2="382.05" y1="396.60" y2="396.60" stroke="#0a0a0a" stroke-width="1.5"/>
<line x1="384.60" x2="394.75" y1="414.50" y2="414.50" stroke="#000" stroke-width="2.2"/>
<line x1="415.60" x2="415.60" y1="465.40" y2="468.70" stroke="#303030" stroke-width="1.05"/>
<text x="405.20" y="475.50" transform="rotate(0.05 405.20 475.50)" font-size="6.2" text-anchor="start" textLength="30.30" lengthAdjust="spacingAndGlyphs" fill="#000" stroke="#000" stroke-width="0.25">4th quarter</text>
<line x1="409.40" x2="409.40" y1="314.10" y2="351.10" stroke="#484848" stroke-width="1"/>
<line x1="409.40" x2="409.40" y1="377.20" y2="384.30" stroke="#484848" stroke-width="1"/>
<line x1="406.90" x2="411.90" y1="314.10" y2="314.10" stroke="#484848" stroke-width="1"/>
<line x1="406.90" x2="411.90" y1="384.30" y2="384.30" stroke="#484848" stroke-width="1"/>
<rect x="404.50" y="351.60" width="9.80" height="25.10" fill="#fbfbfb" stroke="#404040" stroke-width="1"/>
<rect x="405.90" y="353.00" width="7.00" height="15.75" fill="#dcdcdc"/>
<rect x="405.90" y="372.05" width="7.00" height="3.25" fill="#dcdcdc"/>
<line x1="404.20" x2="414.60" y1="370.40" y2="370.40" stroke="#0a0a0a" stroke-width="1.5"/>
<line x1="416.60" x2="426.60" y1="373.20" y2="373.20" stroke="#000" stroke-width="2.2"/>
<line x1="447.65" x2="447.65" y1="465.40" y2="468.70" stroke="#303030" stroke-width="1.05"/>
<text x="438.60" y="475.50" transform="rotate(0.05 438.60 475.50)" font-size="6.2" text-anchor="start" textLength="29.50" lengthAdjust="spacingAndGlyphs" fill="#000" stroke="#000" stroke-width="0.25">highest 5%</text>
<line x1="441.35" x2="441.35" y1="279.65" y2="314.10" stroke="#484848" stroke-width="1"/>
<line x1="441.35" x2="441.35" y1="338.60" y2="342.00" stroke="#484848" stroke-width="1"/>
<line x1="438.85" x2="443.85" y1="279.65" y2="279.65" stroke="#484848" stroke-width="1"/>
<line x1="438.85" x2="443.85" y1="342.00" y2="342.00" stroke="#484848" stroke-width="1"/>
<rect x="436.40" y="314.60" width="9.90" height="23.50" fill="#fbfbfb" stroke="#404040" stroke-width="1"/>
<rect x="437.80" y="316.00" width="7.10" height="10.05" fill="#dcdcdc"/>
<rect x="437.80" y="329.35" width="7.10" height="7.35" fill="#dcdcdc"/>
<line x1="436.10" x2="446.60" y1="327.70" y2="327.70" stroke="#0a0a0a" stroke-width="1.5"/>
<line x1="448.60" x2="459.00" y1="345.30" y2="345.30" stroke="#000" stroke-width="2.2"/>
<text transform="translate(247.10,376.00) rotate(-90)" font-size="6.8" textLength="23.00" lengthAdjust="spacingAndGlyphs" fill="#000" stroke="#000" stroke-width="0.18">percent</text>
<text x="0.55" y="8.8" transform="rotate(0.05 0.55 8.8)" font-size="10.7" text-anchor="start" font-weight="bold" fill="#000" stroke="#000" stroke-width="0.4">A</text>
<text x="243.1" y="8.8" transform="rotate(0.05 243.1 8.8)" font-size="10.7" text-anchor="start" font-weight="bold" textLength="6.7" lengthAdjust="spacingAndGlyphs" fill="#000" stroke="#000" stroke-width="0.4">B</text>
<text x="0.3" y="255.15" transform="rotate(0.05 0.3 255.15)" font-size="12" text-anchor="start" font-weight="bold" textLength="7.0" lengthAdjust="spacingAndGlyphs" fill="#000" stroke="#000" stroke-width="0.4">C</text>
<text x="242.5" y="255.7" transform="rotate(0.05 242.5 255.7)" font-size="12" text-anchor="start" font-weight="bold" textLength="9.0" lengthAdjust="spacingAndGlyphs" fill="#000" stroke="#000" stroke-width="0.4">D</text>
<text x="81.0" y="7.4" transform="rotate(0.05 81.0 7.4)" font-size="8.2" text-anchor="start" textLength="74.2" lengthAdjust="spacingAndGlyphs" fill="#000" stroke="#000" stroke-width="0.3">Complete Remission</text>
<text x="342.7" y="7.4" transform="rotate(0.05 342.7 7.4)" font-size="8.2" text-anchor="start" textLength="41.2" lengthAdjust="spacingAndGlyphs" fill="#000" stroke="#000" stroke-width="0.3">Early Death</text>
<text x="74.0" y="491.0" transform="rotate(0.05 74.0 491.0)" font-size="8.3" text-anchor="start" textLength="102" lengthAdjust="spacingAndGlyphs" fill="#000" stroke="#000" stroke-width="0.3">quarter by predicted CR rate</text>
<text x="317.1" y="491.3" transform="rotate(0.05 317.1 491.3)" font-size="8.3" text-anchor="start" textLength="102.3" lengthAdjust="spacingAndGlyphs" fill="#000" stroke="#000" stroke-width="0.3">quarter by predicted ED rate</text>
<rect x="471.9" y="24.8" width="4.6" height="4.5" fill="#f4f4f4" stroke="#484848" stroke-width="0.9"/>
<text x="478.5" y="29.6" transform="rotate(0.05 478.5 29.6)" font-size="6.7" text-anchor="start" textLength="29" lengthAdjust="spacingAndGlyphs" fill="#000" stroke="#000" stroke-width="0.2">predicted</text>
<line x1="472.00" x2="476.70" y1="37.70" y2="37.70" stroke="#000" stroke-width="2.0"/>
<text x="478.5" y="39.0" transform="rotate(0.05 478.5 39.0)" font-size="6.7" text-anchor="start" textLength="27.7" lengthAdjust="spacingAndGlyphs" fill="#000" stroke="#000" stroke-width="0.2">observed</text>
<rect x="472.9" y="266.0" width="4.6" height="4.5" fill="#f4f4f4" stroke="#484848" stroke-width="0.9"/>
<text x="479.5" y="271.1" transform="rotate(0.05 479.5 271.1)" font-size="6.7" text-anchor="start" textLength="29" lengthAdjust="spacingAndGlyphs" fill="#000" stroke="#000" stroke-width="0.2">predicted</text>
<line x1="473.00" x2="477.70" y1="279.20" y2="279.20" stroke="#000" stroke-width="2.0"/>
<text x="479.5" y="280.5" transform="rotate(0.05 479.5 280.5)" font-size="6.7" text-anchor="start" textLength="27.7" lengthAdjust="spacingAndGlyphs" fill="#000" stroke="#000" stroke-width="0.2">observed</text>
<text x="479.5" y="118.2" transform="rotate(0.05 479.5 118.2)" font-size="7.8" text-anchor="start" textLength="26.5" lengthAdjust="spacingAndGlyphs" fill="#000" stroke="#000" stroke-width="0.3">AMLCG</text>
<text x="480.0" y="128.6" transform="rotate(0.05 480.0 128.6)" font-size="8.2" text-anchor="start" textLength="39" lengthAdjust="spacingAndGlyphs" fill="#000" stroke="#000" stroke-width="0.3">population</text>
<text x="480.2" y="361.6" transform="rotate(0.05 480.2 361.6)" font-size="8.4" text-anchor="start" textLength="13.4" lengthAdjust="spacingAndGlyphs" fill="#000" stroke="#000" stroke-width="0.3">SAL</text>
<text x="480.2" y="371.5" transform="rotate(0.05 480.2 371.5)" font-size="8.2" text-anchor="start" textLength="40.3" lengthAdjust="spacingAndGlyphs" fill="#000" stroke="#000" stroke-width="0.3">population</text>
</svg>
</body></html>
